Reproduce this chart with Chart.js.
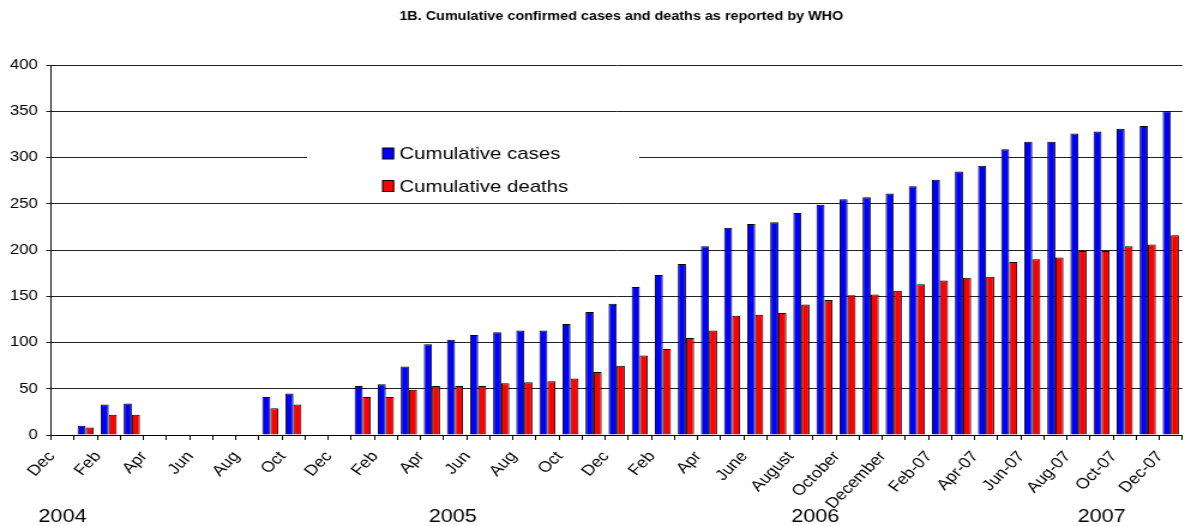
<!DOCTYPE html>
<html>
<head>
<meta charset="utf-8">
<script src="https://cdn.jsdelivr.net/npm/chart.js@4.4.0/dist/chart.umd.min.js"></script>
<style>
  html, body { margin: 0; padding: 0; background: #fff; overflow: hidden; }
  /* the original picture is stretched sideways, so draw narrow and stretch */
  #wrap { width: 998px; height: 526px; transform: scaleX(1.1994); transform-origin: 0 0; }
</style>
</head>
<body>
<div id="wrap"><canvas id="myChart" width="998" height="526"></canvas></div>
<script>
// Dec 2003 .. Dec 2007, one bar pair per month
const months = [
  "Dec",
  "Jan", "Feb", "Mar", "Apr", "May", "Jun", "Jul", "Aug", "Sep", "Oct", "Nov", "Dec",
  "Jan", "Feb", "Mar", "Apr", "May", "Jun", "Jul", "Aug", "Sep", "Oct", "Nov", "Dec",
  "January", "Feb", "March", "Apr", "May", "June", "July", "August", "September", "October", "November", "December",
  "Jan-07", "Feb-07", "Mar-07", "Apr-07", "May-07", "Jun-07", "Jul-07", "Aug-07", "Sep-07", "Oct-07", "Nov-07", "Dec-07"
];

const cases = [
  null,
  10, 33, 34, null, null, null, null, null, 41, 45, null, null,
  53, 55, 74, 98, 103, 108, 111, 113, 113, 120, 133, 142,
  160, 173, 185, 204, 224, 228, 230, 240, 249, 255, 257, 261,
  269, 276, 285, 291, 309, 317, 317, 326, 328, 331, 334, 350
];

const deaths = [
  null,
  8, 22, 22, null, null, null, null, null, 29, 33, null, null,
  41, 41, 49, 53, 53, 53, 56, 57, 58, 61, 68, 75,
  86, 93, 105, 113, 129, 130, 132, 141, 146, 151, 152, 156,
  163, 167, 170, 171, 187, 190, 192, 199, 199, 204, 206, 216
];

const years = ["2004", "2005", "2006", "2007"];

const chartTitle = "1B. Cumulative confirmed cases and deaths as reported by WHO";
const FONT = "Arial, 'Liberation Sans', sans-serif";

// title, legend box and year labels drawn by hand
const decor = {
  id: "decor",
  afterDraw(chart) {
    const c = chart.ctx;
    const x = chart.scales.x;
    c.save();

    // title
    c.fillStyle = "#000";
    c.font = "bold 12px " + FONT;
    c.textAlign = "center";
    c.textBaseline = "middle";
    c.fillText(chartTitle, 518, 17);

    // legend inside the plot
    c.fillStyle = "#fff";
    c.fillRect(256, 132, 277, 66);
    const items = chart.data.datasets;
    items.forEach((ds, i) => {
      const cy = 153.5 + i * 32.5;
      c.fillStyle = ds.backgroundColor;
      c.fillRect(319, cy - 5.5, 9.2, 11);
      c.strokeStyle = "#000";
      c.lineWidth = 1;
      c.strokeRect(319, cy - 5.5, 9.2, 11);
      c.fillStyle = "#000";
      c.font = "17px " + FONT;
      c.textAlign = "left";
      c.textBaseline = "middle";
      c.fillText(ds.label, 333, cy + 1);
    });

    // years under the month labels
    const yearAt = [0, 16.9, 32.6, 45];
    c.font = "18px " + FONT;
    c.textAlign = "center";
    c.fillStyle = "#000";
    years.forEach((yr, i) => {
      c.fillText(yr, x.getPixelForValue(yearAt[i]), 517);
    });

    c.restore();
  }
};

const ctx = document.getElementById("myChart");
const myChart = new Chart(ctx, {
  type: "bar",
  data: {
    labels: months,
    datasets: [
      {
        label: "Cumulative cases",
        data: cases,
        backgroundColor: "#0000ff",
        borderColor: "#000",
        borderWidth: 1,
      },
      {
        label: "Cumulative deaths",
        data: deaths,
        backgroundColor: "#ff0000",
        borderColor: "#000",
        borderWidth: 1,
      },
    ],
  },
  options: {
    responsive: false,
    animation: false,
    devicePixelRatio: 1,
    layout: { padding: { top: 65, right: 3.5, left: 0, bottom: 0 } },
    datasets: { bar: { categoryPercentage: 0.7, barPercentage: 1.0 } },
    scales: {
      x: {
        grid: { display: true, drawOnChartArea: false, drawTicks: true, tickLength: 5, color: "#000", offset: true },
        border: { color: "#000" },
        ticks: {
          autoSkip: false,
          maxRotation: 50,
          minRotation: 50,
          padding: 8,
          labelOffset: -9,
          color: "#000",
          font: { family: FONT, size: 15 },
          callback: function (val, index) {
            return index % 2 === 0 ? this.getLabelForValue(val) : "";
          },
        },
        afterFit: (scale) => { scale.height = 91; },
      },
      y: {
        min: 0,
        max: 400,
        ticks: { stepSize: 50, padding: 7, color: "#000", font: { family: FONT, size: 14 } },
        grid: { color: "#222", tickLength: 4 },
        border: { color: "#000" },
        afterFit: (scale) => { scale.width = 42.5; },
      },
    },
    plugins: {
      legend: { display: false },
      title: { display: false },
      tooltip: { enabled: false },
    },
  },
  plugins: [decor],
});
</script>
</body>
</html>
